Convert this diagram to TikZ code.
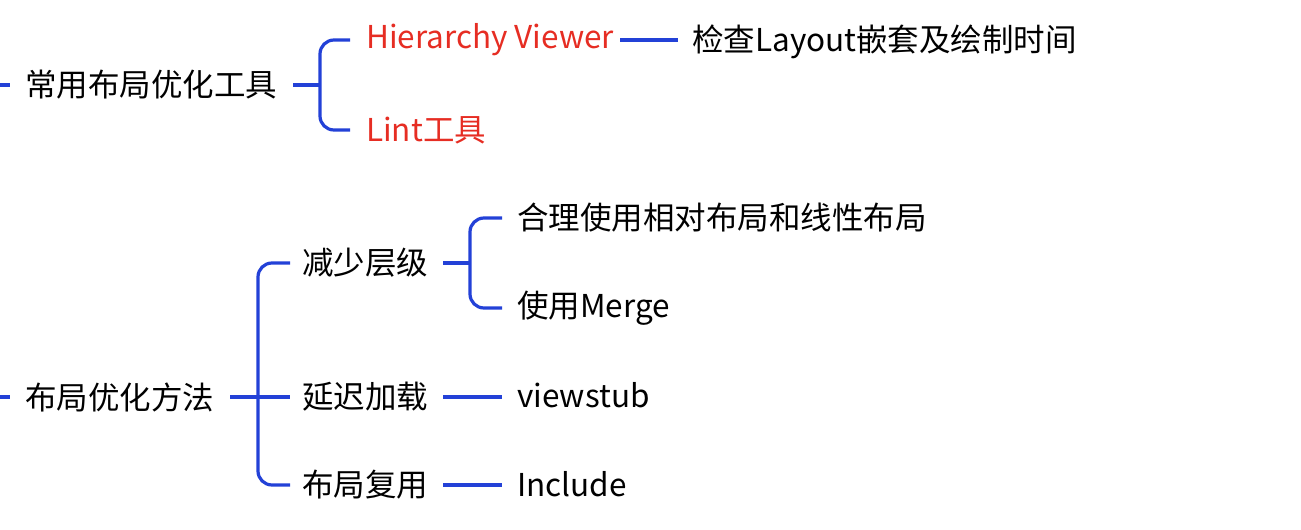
\documentclass[tikz,border=0pt]{standalone}
\usepackage{fontspec}
\setmainfont{Noto Sans CJK SC}
\definecolor{lb}{RGB}{35,65,215}
\definecolor{rd}{RGB}{230,45,35}
\begin{document}
\begin{tikzpicture}[x=1pt,y=-1pt,
  ln/.style={draw=lb,line width=3.2pt,rounded corners=14pt},
  tx/.style={anchor=west,inner sep=0pt,font=\fontsize{31.5}{34}\selectfont},
  rtx/.style={tx,text=rd}]
\useasboundingbox (0,0) rectangle (1301,530);
% top group
\coordinate (s1) at (0,85);
\node[tx] (t1) at (25,85) {常用布局优化工具};
\node[rtx] (hv) at (366,40) {Hierarchy Viewer};
\node[rtx] (li) at (366,130) {Lint工具};
\node[tx] (ck) at (692,42) {检查Layout嵌套及绘制时间};
\draw[ln] (s1) -- (10,85);
\draw[ln] (293,85) -- (320,85);
\draw[ln] (350,40) -- (320,40) -- (320,130) -- (350,130);
\draw[ln] (620,40) -- (678,40);
% bottom group
\coordinate (s2) at (0,397);
\node[tx] (t2) at (25,397) {布局优化方法};
\node[tx] (a) at (302,263) {减少层级};
\node[tx] (b) at (302,397) {延迟加载};
\node[tx] (c) at (302,485) {布局复用};
\node[tx] (a1) at (517,218) {合理使用相对布局和线性布局};
\node[tx] (a2) at (517,308) {使用Merge};
\node[tx] (b1) at (517,395) {viewstub};
\node[tx] (c1) at (517,484) {Include};
\draw[ln] (s2) -- (10,397);
\draw[ln] (230,397) -- (290,397);
\draw[ln] (290,263) -- (258,263) -- (258,485) -- (290,485);
\draw[ln] (443,263) -- (470,263);
\draw[ln] (502,218) -- (470,218) -- (470,308) -- (502,308);
\draw[ln] (443,397) -- (502,397);
\draw[ln] (443,485) -- (502,485);
\end{tikzpicture}
\end{document}
